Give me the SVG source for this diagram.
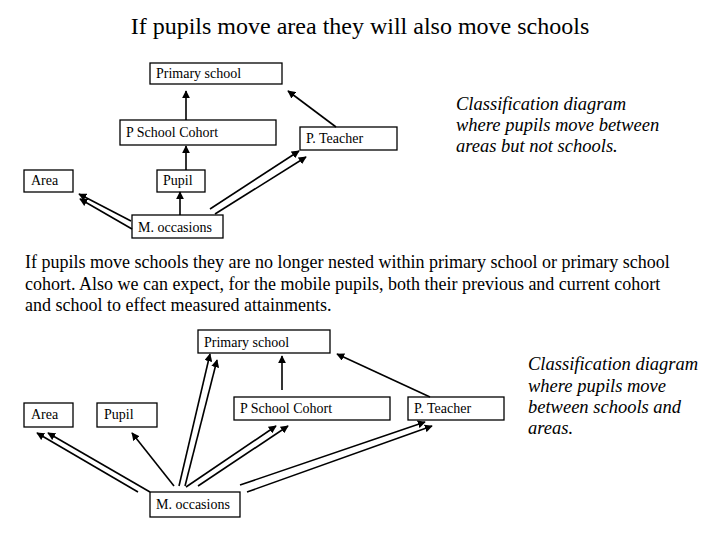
<svg xmlns="http://www.w3.org/2000/svg" width="720" height="540" viewBox="0 0 720 540">
<style>
text{font-family:"Liberation Serif",serif;fill:#000}
.n rect{fill:#fff;stroke:#000;stroke-width:1.3}
.n text{font-size:14px}
.c line{stroke:#000;stroke-width:1.6;marker-end:url(#a)}
.i{font-style:italic;font-size:18.5px}
.p{font-size:18px}
</style>
<defs><marker id="a" viewBox="0 0 10 10" refX="9" refY="5" markerWidth="5" markerHeight="5" orient="auto" markerUnits="strokeWidth"><path d="M0,0L10,5L0,10z" fill="#000"/></marker></defs>
<rect width="720" height="540" fill="#fff"/>
<text x="360" y="34" font-size="24" text-anchor="middle">If pupils move area they will also move schools</text>
<g id="t-primary" class="n"><rect x="150" y="63" width="132" height="21"/><text x="156" y="78">Primary school</text></g>
<g id="t-cohort" class="n"><rect x="120" y="120" width="156" height="25"/><text x="126" y="137">P School Cohort</text></g>
<g id="t-teacher" class="n"><rect x="300" y="127" width="97" height="23"/><text x="306" y="143">P. Teacher</text></g>
<g id="t-area" class="n"><rect x="24" y="170" width="49" height="22"/><text x="31" y="185">Area</text></g>
<g id="t-pupil" class="n"><rect x="157" y="170" width="48" height="22"/><text x="163" y="185">Pupil</text></g>
<g id="t-mocc" class="n"><rect x="132" y="215" width="91" height="23"/><text x="138" y="232">M. occasions</text></g>
<g class="c">
<line x1="186" y1="120" x2="186" y2="91"/>
<line x1="186" y1="170" x2="186" y2="146"/>
<line x1="180" y1="215" x2="180" y2="192"/>
<line x1="336" y1="127" x2="288" y2="91"/>
<line x1="131" y1="221" x2="79" y2="194"/>
<line x1="132" y1="229" x2="80" y2="199"/>
<line x1="210" y1="209" x2="299" y2="151"/>
<line x1="215" y1="214" x2="306" y2="157"/>
</g>
<text class="i" x="456" y="110">Classification diagram</text>
<text class="i" x="456" y="131">where  pupils move between</text>
<text class="i" x="456" y="152">areas but not schools.</text>
<text class="p" x="25" y="268">If pupils move schools they are no longer nested within primary school or primary school</text>
<text class="p" x="25" y="290">cohort. Also we can expect, for the mobile pupils, both their previous and current cohort</text>
<text class="p" x="25" y="311">and school to effect measured attainments.</text>
<g id="b-primary" class="n"><rect x="198" y="330" width="132" height="23"/><text x="204" y="347">Primary school</text></g>
<g id="b-area" class="n"><rect x="24" y="403" width="49" height="24"/><text x="31" y="419">Area</text></g>
<g id="b-pupil" class="n"><rect x="97" y="403" width="60" height="24"/><text x="104" y="419">Pupil</text></g>
<g id="b-cohort" class="n"><rect x="234" y="397" width="156" height="23"/><text x="240" y="413">P School Cohort</text></g>
<g id="b-teacher" class="n"><rect x="408" y="397" width="96" height="23"/><text x="414" y="413">P. Teacher</text></g>
<g id="b-mocc" class="n"><rect x="150" y="492" width="90" height="25"/><text x="156" y="509">M. occasions</text></g>
<g class="c">
<line x1="282" y1="390" x2="282" y2="356"/>
<line x1="430" y1="397" x2="337" y2="354"/>
<line x1="138" y1="492" x2="37" y2="433"/>
<line x1="150" y1="492" x2="48" y2="433"/>
<line x1="174" y1="486" x2="132" y2="433"/>
<line x1="179" y1="486" x2="210" y2="354"/>
<line x1="185" y1="486" x2="217" y2="360"/>
<line x1="186" y1="487" x2="276" y2="426"/>
<line x1="198" y1="486" x2="288" y2="426"/>
<line x1="240" y1="485" x2="425" y2="422"/>
<line x1="247" y1="492" x2="432" y2="426"/>
</g>
<text class="i" x="528" y="370">Classification diagram</text>
<text class="i" x="528" y="392">where  pupils move</text>
<text class="i" x="528" y="413">between schools and</text>
<text class="i" x="528" y="434">areas.</text>
</svg>
